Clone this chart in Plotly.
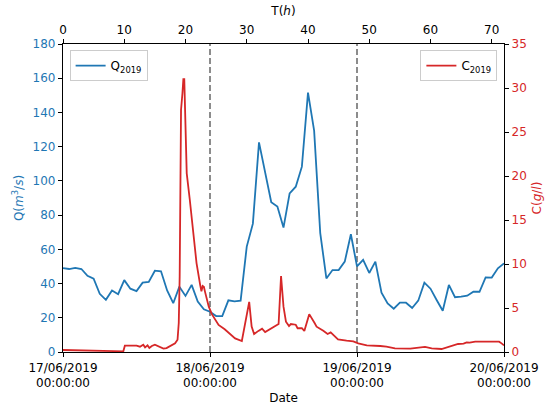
import plotly.graph_objects as go

# ---- data ----
q_hours = list(range(0, 73))
q_values = [49, 48.5, 49.2, 48.5, 44.5, 42.8, 34, 30.5, 36, 33.8,
            42, 37, 35.6, 40.5, 41, 47.5, 47.2, 36, 28.5, 38.2,
            32.8, 39.2, 29.5, 25, 23.5, 21, 21, 30.2, 29.6, 30,
            61.6, 75, 122.5, 105, 87.5, 85, 72.7, 92.7, 96.6, 108.3,
            151.6, 129.4, 69.5, 43, 47.9, 47.9, 52.8, 68.8, 50, 53.8,
            46.2, 52.8, 34.7, 28.4, 25.3, 28.8, 28.8, 25.7, 30, 40.5,
            37, 30.4, 24.1, 39.2, 32, 32.3, 32.9, 35.2, 35.2, 43.6,
            43.5, 48.9, 51.8]

c_hours = [0, 2, 4, 6, 8, 9.85, 10.1, 12.0, 12.57, 13.1, 13.4, 13.8, 14.1, 14.5,
           15.0, 15.6, 16.4, 16.9, 17.7, 18.3, 18.7, 18.9, 19.05, 19.16, 19.27,
           19.5, 19.65, 19.8, 20.0, 20.2, 20.7, 21.3, 21.8, 22.4, 22.6, 22.8,
           23.0, 23.2, 23.5, 23.8, 24.3, 25.4, 26.4, 27.3, 28.1, 29.2, 30.4,
           30.8, 31.2, 31.9, 32.5, 33.0, 34.1, 35.2, 35.6, 36.0, 36.4, 36.9,
           37.2, 38.0, 38.3, 39.0, 39.4, 40.2, 41.1, 41.4, 42.5, 43.2, 43.7,
           44.1, 44.9, 46.3, 47.4, 48.2, 49.6, 51.8, 52.8, 54.2, 56.7, 59.1,
           60.2, 61.8, 63.2, 64.5, 65.4, 65.9, 66.4, 67.3, 69.1, 71.2, 71.6, 72.0]
c_values = [0.23, 0.2, 0.16, 0.13, 0.1, 0.08, 0.72, 0.72, 0.6, 0.83, 0.53, 0.75, 0.45, 0.68,
            0.83, 0.6, 0.38, 0.45, 0.75, 1.0, 1.4, 3.3, 8.6, 18.0, 27.5,
            29.4, 31.0, 31.0, 25.6, 20.3, 17.3, 13.5, 10.1, 7.6, 6.9, 7.5,
            7.4, 6.8, 5.9, 5.15, 4.3, 3.07, 2.58, 2.05, 1.55, 1.25, 5.7,
            2.9, 2.05, 2.4, 2.65, 2.27, 2.7, 3.18, 8.64, 5.15, 3.45, 2.95,
            3.18, 3.1, 2.7, 2.7, 2.39, 4.3, 3.26, 2.88, 2.42, 2.05, 2.23,
            1.93, 1.44, 1.29, 1.21, 0.98, 0.76, 0.68, 0.61, 0.42, 0.38, 0.57,
            0.42, 0.34, 0.68, 0.91, 0.95, 1.1, 1.06, 1.17, 1.17, 1.17, 0.98, 0.75]

date_tickvals = [0, 24, 48, 72]
date_ticktext = ["17/06/2019<br>00:00:00", "18/06/2019<br>00:00:00",
                 "19/06/2019<br>00:00:00", "20/06/2019<br>00:00:00"]
hour_tickvals = [0, 10, 20, 30, 40, 50, 60, 70]
day_marks = [24, 48]

BLUE = "#1f77b4"
RED = "#d62728"
FONT = "DejaVu Sans"

fig = go.Figure()
fig.add_trace(go.Scatter(x=q_hours, y=q_values, mode="lines", name="Q<sub>2019</sub>",
                         line=dict(color=BLUE, width=1.8), xaxis="x", yaxis="y",
                         legend="legend"))
fig.add_trace(go.Scatter(x=c_hours, y=c_values, mode="lines", name="C<sub>2019</sub>",
                         line=dict(color=RED, width=1.8), xaxis="x2", yaxis="y2",
                         legend="legend2"))

for d in day_marks:
    fig.add_shape(type="line", x0=d, x1=d, y0=0, y1=1, xref="x", yref="paper",
                  line=dict(color="#808080", width=1.8, dash="6px,3px"), layer="below")

axis_common = dict(showline=True, linecolor="black", linewidth=1.2, ticks="outside",
                   ticklen=4, tickcolor="black", tickwidth=1, showgrid=False,
                   zeroline=False)

fig.update_layout(
    width=548, height=405,
    margin=dict(l=63, r=44, t=44, b=53, autoexpand=False),
    paper_bgcolor="white", plot_bgcolor="white",
    font=dict(family=FONT, size=12, color="black"),
    xaxis=dict(range=[0, 72], tickvals=date_tickvals, ticktext=date_ticktext,
               title=dict(text="Date", standoff=4, font=dict(size=12)),
               side="bottom", anchor="y", automargin=False, **axis_common),
    xaxis2=dict(range=[0, 72], tickvals=hour_tickvals, overlaying="x", side="top",
                anchor="y2", title=dict(text="T(<i>h</i>)", standoff=4, font=dict(size=12)),
                automargin=False, **axis_common),
    yaxis=dict(range=[0, 180], dtick=20, tickfont=dict(color=BLUE),
               title=dict(text="Q(<i>m</i><sup>3</sup>/<i>s</i>)", font=dict(color=BLUE, size=12),
                          standoff=6),
               automargin=False, **axis_common),
    yaxis2=dict(range=[0, 35], dtick=5, overlaying="y", side="right", anchor="x2",
                tickfont=dict(color=RED),
                title=dict(text="C(<i>g</i>/<i>l</i>)", font=dict(color=RED, size=12),
                           standoff=6),
                automargin=False, **axis_common),
    legend=dict(x=0.015, y=0.98, xanchor="left", yanchor="top",
                bordercolor="#cccccc", borderwidth=1, bgcolor="rgba(255,255,255,0.8)",
                font=dict(size=12), itemwidth=30),
    legend2=dict(x=0.985, y=0.98, xanchor="right", yanchor="top",
                 bordercolor="#cccccc", borderwidth=1, bgcolor="rgba(255,255,255,0.8)",
                 font=dict(size=12), itemwidth=30),
    showlegend=True,
)

fig.write_html("out.html", config={"displayModeBar": False},
               post_script="document.body.style.margin='0';document.body.style.padding='0';")
